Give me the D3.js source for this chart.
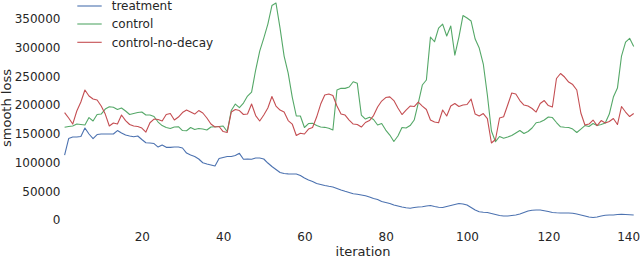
<!DOCTYPE html>
<html>
<head>
<meta charset="utf-8">
<script src="https://cdn.jsdelivr.net/npm/d3@7"></script>
<style>
  html, body { margin: 0; padding: 0; background: #fff; }
  svg { display: block; }
  text { font-family: "DejaVu Sans", sans-serif; fill: #262626; }
</style>
</head>
<body>
<svg id="chart" width="640" height="257"></svg>
<script>
// ---- data ----
const seriesNames = ["treatment", "control", "control-no-decay"];
const seriesColors = ["#4C72B0", "#55A868", "#C44E52"];
const xTicks = [20, 40, 60, 80, 100, 120, 140];
const yTicks = [0, 50000, 100000, 150000, 200000, 250000, 300000, 350000];

const treatment = [
  113000, 141700, 144300, 144300, 145200, 160000, 149600, 141700, 148700, 149600,
  149600, 149600, 149600, 155600, 151300, 147800, 146100, 144900, 146100, 140000,
  134400, 133900, 133000, 126900, 130400, 126400, 126400, 126900, 126900, 125200,
  116500, 113000, 110400, 106100, 99600, 97400, 95600, 93900, 106900, 108700,
  110400, 110400, 112200, 116000, 105600, 106100, 105600, 107800, 107800, 106100,
  99100, 93000, 87800, 82600, 80900, 80300, 80000, 80000, 77400, 73000,
  69600, 67000, 63500, 61700, 60000, 58600, 57400, 54800, 52200, 49900,
  47800, 45600, 44700, 43500, 42100, 40000, 37400, 35600, 32200, 30400,
  28700, 26100, 24300, 22600, 21400, 20500, 21700, 22600, 23000, 24300,
  25200, 23500, 22100, 21700, 23500, 25200, 27000, 28700, 27800, 26100,
  21700, 17400, 14400, 13600, 13000, 11300, 9600, 7800, 7000, 7000,
  7800, 8700, 10400, 13000, 15700, 16900, 17400, 17400, 16200, 14800,
  13000, 12500, 12200, 12200, 12200, 11700, 10400, 8700, 7000, 5200,
  4300, 5200, 7000, 8200, 8700, 8700, 9600, 9900, 9600, 9200,
  8700
];

const control = [
  161200, 162600, 163500, 166900, 166100, 165200, 178200, 172200, 183500, 184300,
  193000, 197000, 196000, 192200, 194800, 189600, 183500, 185200, 186900, 187800,
  182600, 182600, 180000, 170400, 164300, 160900, 159100, 161700, 162300, 155600,
  155300, 160900, 157400, 159100, 158200, 156500, 161700, 162300, 162600, 163500,
  153900, 190400, 201700, 195600, 203500, 215600, 222600, 260900, 293900, 316500,
  340800, 373000, 377400, 333900, 285200, 255600, 213900, 180900, 180900, 160900,
  167800, 168200, 164300, 161700, 161200, 159500, 156500, 226100, 229000, 229000,
  231300, 240500, 237700, 182600, 175600, 178600, 174800, 165200, 167800, 156500,
  147800, 136500, 146100, 160900, 160000, 164300, 173900, 203500, 234800, 243500,
  318200, 310100, 333900, 340800, 320000, 337400, 286900, 318200, 355600, 351300,
  346100, 314800, 299100, 271300, 217400, 154800, 136200, 145200, 142100, 144300,
  146900, 151300, 155600, 150400, 153900, 160000, 169200, 170400, 173900, 179100,
  178200, 169600, 162100, 161400, 160900, 158200, 152200, 158200, 164300, 162600,
  167800, 164300, 166100, 168700, 184300, 213900, 229500, 285200, 309500, 316000,
  301700
];

const controlNoDecay = [
  186900, 177400, 166900, 189600, 205200, 226100, 215600, 210400, 208700, 198200,
  184300, 163500, 168700, 166900, 182600, 173000, 166100, 163500, 162600, 160000,
  153000, 169200, 175600, 174800, 172200, 183500, 185200, 173900, 179100, 186900,
  191300, 187800, 184300, 190400, 186100, 177400, 166900, 161700, 162600, 153900,
  152200, 187800, 192200, 190400, 183500, 184300, 201700, 181700, 172200, 182600,
  194800, 214800, 198200, 191300, 187800, 173000, 166900, 146900, 150800, 149600,
  158200, 160900, 179100, 201700, 217400, 219100, 216500, 198200, 184300, 182600,
  173900, 166900, 166100, 161700, 169600, 173000, 181700, 196500, 206900, 213000,
  214200, 207800, 194800, 183500, 191300, 198200, 197400, 205200, 198200, 192200,
  173900, 170400, 169200, 191300, 180900, 198200, 202600, 197400, 200000, 200900,
  210400, 184300, 180900, 185200, 176500, 133900, 140000, 177400, 179600, 200000,
  220900, 219100, 207800, 200000, 198200, 193900, 187800, 202600, 207800, 199100,
  196500, 246100, 254800, 248700, 240000, 235600, 226100, 186100, 165200, 166900,
  173900, 164300, 173000, 168700, 171300, 176500, 166100, 197400, 187800, 180000,
  185200
];

const allSeries = [treatment, control, controlNoDecay];

// ---- drawing ----
const svg = d3.select("#chart");

const x = d3.scaleLinear().domain([1, treatment.length]).range([64.6, 633.7]);
const y = d3.scaleLinear().domain([0, 350000]).range([220, 18.8]);

// axes (no spines, no tick marks)
const xAxis = svg.append("g")
  .attr("transform", "translate(0,220)")
  .call(d3.axisBottom(x).tickValues(xTicks).tickSize(0).tickPadding(12.5));
const yAxis = svg.append("g")
  .attr("transform", "translate(62,0)")
  .call(d3.axisLeft(y).tickValues(yTicks).tickSize(0).tickPadding(1.5).tickFormat(d3.format("d")));
[xAxis, yAxis].forEach(g => {
  g.select(".domain").remove();
  g.selectAll("text").style("font-family", "'DejaVu Sans', sans-serif").attr("font-size", 12).attr("fill", "#262626");
  g.attr("font-size", null);
});
// keep the last x tick label inside the window
xAxis.selectAll(".tick text").filter(d => d === 140).attr("dx", -1.5);

// lines
const line = d3.line().x((d, i) => x(i + 1)).y(d => y(d));
allSeries.forEach((s, k) => {
  svg.append("path")
    .datum(s)
    .attr("fill", "none")
    .attr("stroke", seriesColors[k])
    .attr("stroke-width", 1.1)
    .attr("stroke-linejoin", "round")
    .attr("d", line);
});

// axis labels
svg.append("text")
  .attr("x", 363).attr("y", 255.5)
  .attr("text-anchor", "middle")
  .attr("font-size", 13)
  .text("iteration");
svg.append("text")
  .attr("transform", "translate(10.5,108) rotate(-90)")
  .attr("text-anchor", "middle")
  .attr("font-size", 13)
  .text("smooth loss");

// legend
const legendY = [6, 24, 42.3];
const legend = svg.append("g");
seriesNames.forEach((name, k) => {
  legend.append("line")
    .attr("x1", 77.3).attr("x2", 101.7)
    .attr("y1", legendY[k]).attr("y2", legendY[k])
    .attr("stroke", seriesColors[k]).attr("stroke-width", 1.1);
  legend.append("text")
    .attr("x", 111.7).attr("y", legendY[k])
    .attr("dy", "0.36em")
    .attr("font-size", 12)
    .text(name);
});
</script>
</body>
</html>
